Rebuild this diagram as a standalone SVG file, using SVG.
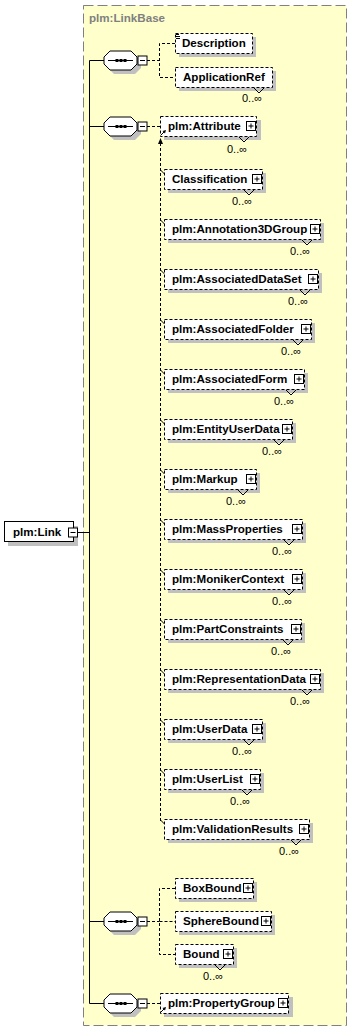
<svg xmlns="http://www.w3.org/2000/svg" width="352" height="1032" viewBox="0 0 352 1032">
<style>
.bg{fill:#ffffcc;stroke:#808080;stroke-width:1;stroke-dasharray:10,4}
.el{fill:#fff;stroke:#000;stroke-width:1;stroke-dasharray:3,2}
.sel{fill:#fff;stroke:#000;stroke-width:1}
.sh{fill:#c0c0c0;stroke:none}
.ln{fill:none;stroke:#000;stroke-width:1}
.dl{fill:none;stroke:#000;stroke-width:1;stroke-dasharray:3,2}
.t{font-family:"Liberation Sans",Arial,sans-serif;font-weight:bold;font-size:11.6px;fill:#000}
.o{font-family:"Liberation Sans",Arial,sans-serif;font-size:11px;fill:#000}
.g{font-family:"Liberation Sans",Arial,sans-serif;font-weight:bold;font-size:11.6px;fill:#808080}
</style>
<defs>
<g id="seq">
<polygon class="sh" points="10,-5.5 31,-5.5 37,0.5 37,7.5 31,13.5 10,13.5 4,7.5 4,0.5"/>
<polygon class="sel" points="6,-9.5 27,-9.5 33,-3.5 33,3.5 27,9.5 6,9.5 0,3.5 0,-3.5"/>
<line class="ln" x1="4" y1="0" x2="29" y2="0"/>
<rect x="11.5" y="-1.5" width="3" height="3" fill="#000"/>
<rect x="15.5" y="-1.5" width="3" height="3" fill="#000"/>
<rect x="19.5" y="-1.5" width="3" height="3" fill="#000"/>
<rect class="sel" x="34" y="-4.5" width="9" height="9"/>
<line class="ln" x1="36" y1="0" x2="41" y2="0"/>
</g>
<g id="plus">
<rect class="sel" x="0" y="0" width="9" height="9"/>
<line class="ln" x1="2" y1="4.5" x2="7" y2="4.5"/>
<line class="ln" x1="4.5" y1="2" x2="4.5" y2="7"/>
</g>
<g id="refarrow">
<line class="ln" x1="0" y1="5" x2="4" y2="1"/>
<polygon points="5,0 1.5,1 4,3.5" fill="#000"/>
</g>
</defs>

<rect class="bg" x="83.5" y="5.5" width="263" height="1020"/>
<text class="g" x="89" y="22">plm:LinkBase</text>

<g id="connectors">
<line class="ln" x1="77" y1="532.5" x2="89.5" y2="532.5"/>
<line class="ln" x1="89.5" y1="60.5" x2="89.5" y2="1003.5"/>
<line class="ln" x1="89.5" y1="60.5" x2="104" y2="60.5"/>
<line class="ln" x1="89.5" y1="126.5" x2="104" y2="126.5"/>
<line class="ln" x1="89.5" y1="921.5" x2="104" y2="921.5"/>
<line class="ln" x1="89.5" y1="1003.5" x2="104" y2="1003.5"/>
<path class="dl" d="M147,60.5H159.5M175,43.5H159.5V77.5H175"/>
<path class="dl" d="M147,126.5H160"/>
<path class="dl" d="M147,921.5H159.5M175,888.5H159.5V954.5H175M159.5,921.5H175"/>
<path class="dl" d="M147,1003.5H160"/>
<path class="dl" d="M160.5,143V821"/>
<polygon points="160.5,138 158,144 163,144" fill="#000"/>
<path class="ln" d="M160.5,170L164.5,174M160.5,220L164.5,224M160.5,270L164.5,274M160.5,320L164.5,324M160.5,370L164.5,374M160.5,420L164.5,424M160.5,470L164.5,474M160.5,520L164.5,524M160.5,570L164.5,574M160.5,620L164.5,624M160.5,670L164.5,674M160.5,720L164.5,724M160.5,770L164.5,774M160.5,820L164.5,824"/>
</g>

<g id="plm-Link">
<rect class="sh" x="8" y="526" width="70" height="20"/>
<rect class="sel" x="4.5" y="521.5" width="69" height="20"/>
<text class="t" x="13" y="536">plm:Link</text>
<rect class="sel" x="68.5" y="528" width="9" height="9"/>
<line class="ln" x1="70.5" y1="532.5" x2="75.5" y2="532.5"/>
</g>

<g id="seq1"><use href="#seq" transform="translate(104,60.5)"/></g>
<g id="seq2"><use href="#seq" transform="translate(104,126.5)"/></g>
<g id="seq3"><use href="#seq" transform="translate(104,921.5)"/></g>
<g id="seq4"><use href="#seq" transform="translate(104,1003.5)"/></g>

<g id="Description">
<rect class="sh" x="179" y="37" width="77" height="20"/>
<rect class="el" x="175.5" y="33.5" width="77" height="20"/>
<path class="ln" d="M176,34.5H179M176,36.5H180M176,38.5H180"/>
<text class="t" x="182" y="47">Description</text>
</g>

<g id="ApplicationRef">
<rect class="sh" x="179" y="71" width="97" height="20"/>
<rect class="el" x="175.5" y="67.5" width="97" height="20"/>
<text class="t" x="183" y="81">ApplicationRef</text>
<polyline class="ln" points="254,88 259,93 264,88"/>
<text class="o" x="242" y="102">0..∞</text>
</g>

<g id="plm-Attribute">
<rect class="sh" x="164" y="120" width="97" height="20"/>
<rect class="el" x="160.5" y="116.5" width="96" height="20"/>
<text class="t" x="168" y="130">plm:Attribute</text>
<use href="#plus" transform="translate(246.5,121.5)"/>
<use href="#refarrow" transform="translate(161,130)"/>
<polyline class="ln" points="239,137 244,142 249,137"/>
<text class="o" x="227" y="153">0..∞</text>
</g>

<g id="Classification">
<rect class="sh" x="168" y="173" width="98" height="20"/>
<rect class="el" x="164.5" y="169.5" width="98" height="20"/>
<text class="t" x="172" y="183">Classification</text>
<use href="#plus" transform="translate(252.5,174.5)"/>
<polyline class="ln" points="244,190 249,195 254,190"/>
<text class="o" x="232" y="205">0..∞</text>
</g>

<g id="plm-Annotation3DGroup">
<rect class="sh" x="168" y="223" width="156" height="20"/>
<rect class="el" x="164.5" y="219.5" width="156" height="20"/>
<text class="t" x="172" y="233">plm:Annotation3DGroup</text>
<use href="#plus" transform="translate(310.5,224.5)"/>
<polyline class="ln" points="302,240 307,245 312,240"/>
<text class="o" x="290" y="255">0..∞</text>
</g>

<g id="plm-AssociatedDataSet">
<rect class="sh" x="168" y="273" width="154" height="20"/>
<rect class="el" x="164.5" y="269.5" width="154" height="20"/>
<text class="t" x="172" y="283">plm:AssociatedDataSet</text>
<use href="#plus" transform="translate(308.5,274.5)"/>
<polyline class="ln" points="300,290 305,295 310,290"/>
<text class="o" x="288" y="305">0..∞</text>
</g>

<g id="plm-AssociatedFolder">
<rect class="sh" x="168" y="323" width="147" height="20"/>
<rect class="el" x="164.5" y="319.5" width="147" height="20"/>
<text class="t" x="172" y="333">plm:AssociatedFolder</text>
<use href="#plus" transform="translate(301.5,324.5)"/>
<polyline class="ln" points="293,340 298,345 303,340"/>
<text class="o" x="281" y="355">0..∞</text>
</g>

<g id="plm-AssociatedForm">
<rect class="sh" x="168" y="373" width="140" height="20"/>
<rect class="el" x="164.5" y="369.5" width="140" height="20"/>
<text class="t" x="172" y="383">plm:AssociatedForm</text>
<use href="#plus" transform="translate(294.5,374.5)"/>
<polyline class="ln" points="286,390 291,395 296,390"/>
<text class="o" x="274" y="405">0..∞</text>
</g>

<g id="plm-EntityUserData">
<rect class="sh" x="168" y="423" width="128" height="20"/>
<rect class="el" x="164.5" y="419.5" width="128" height="20"/>
<text class="t" x="172" y="433">plm:EntityUserData</text>
<use href="#plus" transform="translate(282.5,424.5)"/>
<polyline class="ln" points="274,440 279,445 284,440"/>
<text class="o" x="262" y="455">0..∞</text>
</g>

<g id="plm-Markup">
<rect class="sh" x="168" y="473" width="92" height="20"/>
<rect class="el" x="164.5" y="469.5" width="92" height="20"/>
<text class="t" x="172" y="483">plm:Markup</text>
<use href="#plus" transform="translate(246.5,474.5)"/>
<polyline class="ln" points="238,490 243,495 248,490"/>
<text class="o" x="226" y="505">0..∞</text>
</g>

<g id="plm-MassProperties">
<rect class="sh" x="168" y="523" width="138" height="20"/>
<rect class="el" x="164.5" y="519.5" width="138" height="20"/>
<text class="t" x="172" y="533">plm:MassProperties</text>
<use href="#plus" transform="translate(292.5,524.5)"/>
<polyline class="ln" points="284,540 289,545 294,540"/>
<text class="o" x="272" y="555">0..∞</text>
</g>

<g id="plm-MonikerContext">
<rect class="sh" x="168" y="573" width="138" height="20"/>
<rect class="el" x="164.5" y="569.5" width="138" height="20"/>
<text class="t" x="172" y="583">plm:MonikerContext</text>
<use href="#plus" transform="translate(292.5,574.5)"/>
<polyline class="ln" points="284,590 289,595 294,590"/>
<text class="o" x="272" y="605">0..∞</text>
</g>

<g id="plm-PartConstraints">
<rect class="sh" x="168" y="623" width="137" height="20"/>
<rect class="el" x="164.5" y="619.5" width="137" height="20"/>
<text class="t" x="172" y="633">plm:PartConstraints</text>
<use href="#plus" transform="translate(291.5,624.5)"/>
<polyline class="ln" points="283,640 288,645 293,640"/>
<text class="o" x="271" y="655">0..∞</text>
</g>

<g id="plm-RepresentationData">
<rect class="sh" x="168" y="673" width="156" height="20"/>
<rect class="el" x="164.5" y="669.5" width="156" height="20"/>
<text class="t" x="172" y="683">plm:RepresentationData</text>
<use href="#plus" transform="translate(310.5,674.5)"/>
<polyline class="ln" points="302,690 307,695 312,690"/>
<text class="o" x="290" y="705">0..∞</text>
</g>

<g id="plm-UserData">
<rect class="sh" x="168" y="723" width="98" height="20"/>
<rect class="el" x="164.5" y="719.5" width="98" height="20"/>
<text class="t" x="172" y="733">plm:UserData</text>
<use href="#plus" transform="translate(252.5,724.5)"/>
<polyline class="ln" points="244,740 249,745 254,740"/>
<text class="o" x="232" y="755">0..∞</text>
</g>

<g id="plm-UserList">
<rect class="sh" x="168" y="773" width="96" height="20"/>
<rect class="el" x="164.5" y="769.5" width="96" height="20"/>
<text class="t" x="172" y="783">plm:UserList</text>
<use href="#plus" transform="translate(250.5,774.5)"/>
<polyline class="ln" points="242,790 247,795 252,790"/>
<text class="o" x="230" y="805">0..∞</text>
</g>

<g id="plm-ValidationResults">
<rect class="sh" x="168" y="823" width="145" height="20"/>
<rect class="el" x="164.5" y="819.5" width="145" height="20"/>
<text class="t" x="172" y="833">plm:ValidationResults</text>
<use href="#plus" transform="translate(299.5,824.5)"/>
<polyline class="ln" points="291,840 296,845 301,840"/>
<text class="o" x="279" y="855">0..∞</text>
</g>

<g id="BoxBound">
<rect class="sh" x="179" y="882" width="78" height="20"/>
<rect class="el" x="175.5" y="878.5" width="78" height="20"/>
<text class="t" x="183" y="892">BoxBound</text>
<use href="#plus" transform="translate(243.5,883.5)"/>
</g>

<g id="SphereBound">
<rect class="sh" x="179" y="915" width="96" height="20"/>
<rect class="el" x="175.5" y="911.5" width="96" height="20"/>
<text class="t" x="183" y="925">SphereBound</text>
<use href="#plus" transform="translate(261.5,916.5)"/>
</g>

<g id="Bound">
<rect class="sh" x="179" y="948" width="58" height="20"/>
<rect class="el" x="175.5" y="944.5" width="58" height="20"/>
<text class="t" x="183" y="958">Bound</text>
<use href="#plus" transform="translate(223.5,949.5)"/>
<polyline class="ln" points="215,965 220,970 225,965"/>
<text class="o" x="203" y="980">0..∞</text>
</g>

<g id="plm-PropertyGroup">
<rect class="sh" x="164" y="997" width="129" height="20"/>
<rect class="el" x="160.5" y="993.5" width="128" height="20"/>
<text class="t" x="168" y="1007">plm:PropertyGroup</text>
<use href="#plus" transform="translate(278.5,998.5)"/>
<use href="#refarrow" transform="translate(161,1007)"/>
</g>
</svg>
